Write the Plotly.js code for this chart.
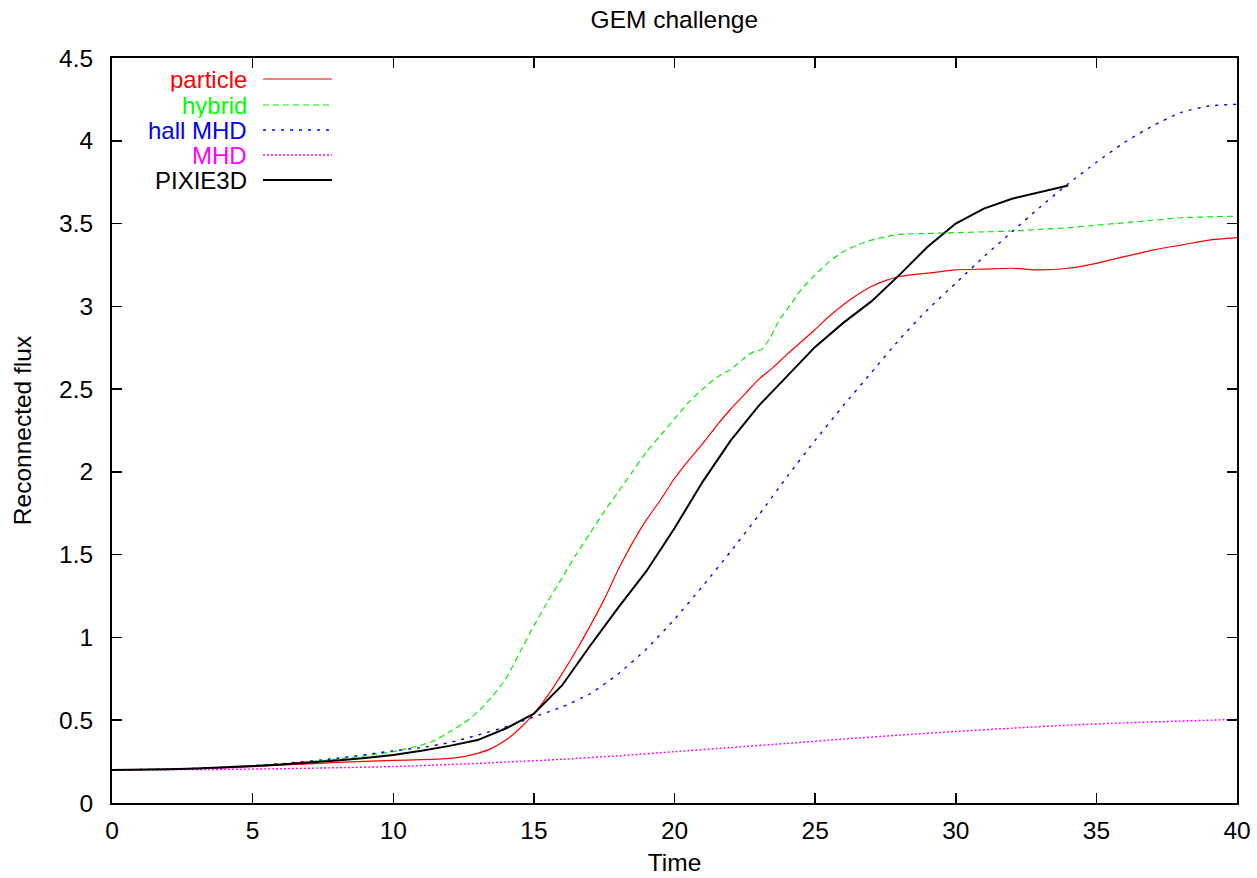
<!DOCTYPE html>
<html>
<head>
<meta charset="utf-8">
<script src="https://cdn.plot.ly/plotly-3.0.1.min.js"></script>
<style>html,body{margin:0;padding:0;background:#fff;}#chart{width:1257px;height:878px;}</style>
</head>
<body>
<div id="chart"></div>
<script>
// ---- data ----
var seriesNames = ["particle", "hybrid", "hall MHD", "MHD", "PIXIE3D"];

var particleTime = [0, 2, 4, 6, 8, 10, 11, 12, 12.5, 13, 13.5, 14, 14.5, 15, 15.5, 16, 16.5, 17, 17.5, 18, 18.5, 19, 19.5, 20, 20.5, 21, 21.5, 22, 22.5, 23, 23.5, 24, 24.5, 25, 25.5, 26, 26.5, 27, 27.5, 28, 29, 30, 31, 32, 33, 34, 35, 36, 37, 38, 39, 40];
var particleFlux = [0.2, 0.203, 0.212, 0.228, 0.245, 0.257, 0.262, 0.27, 0.28, 0.30, 0.33, 0.38, 0.45, 0.54, 0.65, 0.78, 0.92, 1.07, 1.23, 1.41, 1.57, 1.71, 1.83, 1.96, 2.07, 2.17, 2.28, 2.38, 2.47, 2.56, 2.63, 2.71, 2.785, 2.86, 2.94, 3.01, 3.07, 3.12, 3.155, 3.18, 3.20, 3.22, 3.225, 3.23, 3.22, 3.23, 3.26, 3.30, 3.34, 3.37, 3.40, 3.415];

var hybridTime = [0, 2, 4, 6, 8, 9, 10, 11, 11.5, 12, 12.5, 13, 13.5, 14, 14.5, 15, 15.5, 16, 16.5, 17, 17.5, 18, 18.5, 19, 19.5, 20, 20.5, 21, 21.5, 22, 22.5, 22.8, 23.1, 23.4, 23.7, 24, 24.5, 25, 25.5, 26, 26.5, 27, 27.5, 28, 29, 30, 31, 32, 33, 34, 35, 36, 37, 38, 39, 40];
var hybridFlux = [0.2, 0.205, 0.215, 0.235, 0.265, 0.285, 0.31, 0.35, 0.38, 0.43, 0.48, 0.55, 0.64, 0.75, 0.91, 1.07, 1.22, 1.36, 1.50, 1.63, 1.76, 1.88, 2.00, 2.12, 2.22, 2.32, 2.42, 2.50, 2.57, 2.62, 2.69, 2.725, 2.74, 2.81, 2.91, 2.98, 3.10, 3.19, 3.27, 3.33, 3.37, 3.40, 3.42, 3.435, 3.44, 3.445, 3.45, 3.455, 3.465, 3.475, 3.49, 3.505, 3.52, 3.535, 3.54, 3.545];

var hallTime = [0, 2, 4, 6, 8, 10, 11, 12, 13, 14, 15, 16, 17, 18, 19, 20, 21, 22, 23, 24, 25, 26, 27, 28, 29, 30, 31, 32, 33, 34, 35, 36, 37, 38, 39, 40];
var hallFlux = [0.2, 0.205, 0.215, 0.237, 0.27, 0.315, 0.335, 0.365, 0.41, 0.46, 0.52, 0.58, 0.66, 0.78, 0.93, 1.11, 1.31, 1.52, 1.74, 1.97, 2.19, 2.40, 2.60, 2.80, 2.98, 3.14, 3.30, 3.45, 3.60, 3.74, 3.87, 3.99, 4.09, 4.17, 4.21, 4.22];

var mhdTime = [0, 2, 4, 6, 8, 10, 12, 14, 16, 18, 20, 22, 24, 26, 28, 30, 32, 34, 36, 38, 40];
var mhdFlux = [0.2, 0.201, 0.203, 0.207, 0.213, 0.22, 0.232, 0.247, 0.264, 0.285, 0.31, 0.335, 0.36, 0.386, 0.41, 0.432, 0.452, 0.47, 0.484, 0.495, 0.505];

var pixieTime = [0, 1, 2, 3, 4, 5, 6, 7, 8, 9, 10, 11, 12, 13, 14, 15, 16, 17, 18, 19, 20, 21, 22, 23, 24, 25, 26, 27, 28, 29, 30, 31, 32, 33, 34];
var pixieFlux = [0.2, 0.2, 0.204, 0.209, 0.215, 0.223, 0.233, 0.244, 0.257, 0.272, 0.29, 0.315, 0.345, 0.38, 0.45, 0.54, 0.71, 0.95, 1.18, 1.40, 1.66, 1.94, 2.19, 2.40, 2.58, 2.755, 2.90, 3.03, 3.19, 3.36, 3.50, 3.59, 3.65, 3.69, 3.73];

var xTicks = [0, 5, 10, 15, 20, 25, 30, 35, 40];
var yTicks = [0, 0.5, 1, 1.5, 2, 2.5, 3, 3.5, 4, 4.5];

// ---- styles ----
var colors = ["#ff0000", "#00ee00", "#0000ff", "#ff00ff", "#000000"];
var textColors = ["#ff0000", "#00ff00", "#0000ff", "#ff00ff", "#000000"];
var dashes = ["solid", "6px,4px", "3px,6px", "2px,2px", "solid"];
var widths = [1.2, 1.2, 1.4, 1.4, 2];
var shapes = ["spline", "spline", "spline", "spline", "linear"];

var xs = [particleTime, hybridTime, hallTime, mhdTime, pixieTime];
var ys = [particleFlux, hybridFlux, hallFlux, mhdFlux, pixieFlux];

var FONT = "Liberation Sans, Arial, Helvetica, sans-serif";
var FS = 24.5;
var LFS = 24;
var W = 1257, H = 878;
var mL = 112, mR = 20, mT = 58, mB = 75;
var plotW = W - mL - mR, plotH = H - mT - mB;
function pxX(px) { return (px - mL) / plotW; }
function pxY(py) { return (H - mB - py) / plotH; }

var traces = [];
for (var i = 0; i < seriesNames.length; i++) {
  traces.push({
    type: "scatter", mode: "lines", name: seriesNames[i],
    x: xs[i], y: ys[i],
    line: {color: colors[i], width: widths[i], dash: dashes[i], shape: shapes[i], smoothing: 0.6},
    showlegend: false, hoverinfo: "skip"
  });
}

// custom legend (text left of sample line, as in the reference)
var annotations = [], legendShapes = [];
var rowY = [79, 105, 130, 155, 180];
for (var j = 0; j < seriesNames.length; j++) {
  annotations.push({
    xref: "paper", yref: "paper", x: pxX(247), y: pxY(rowY[j]),
    xanchor: "right", yanchor: "middle", showarrow: false,
    height: 24.4, borderpad: 0, borderwidth: 0, valign: "middle",
    text: seriesNames[j], font: {family: FONT, size: LFS, color: textColors[j]}
  });
  legendShapes.push({
    type: "line", xref: "paper", yref: "paper",
    x0: pxX(263), x1: pxX(332), y0: pxY(rowY[j]), y1: pxY(rowY[j]),
    line: {color: colors[j], width: widths[j], dash: dashes[j]}
  });
}

var axisCommon = {
  showline: true, linecolor: "#000", linewidth: 2, mirror: "ticks",
  ticks: "inside", ticklen: 10, tickwidth: 1.5, tickcolor: "#000",
  showgrid: false, zeroline: false, automargin: false,
  tickfont: {family: FONT, size: FS, color: "#000"}
};

var layout = {
  width: W, height: H,
  margin: {l: mL, r: mR, t: mT, b: mB, pad: 0},
  paper_bgcolor: "#fff", plot_bgcolor: "#fff",
  font: {family: FONT, size: FS, color: "#000"},
  title: {text: "GEM challenge", x: 0.5365, xanchor: "center", y: 1 - 19 / H, yanchor: "middle",
          font: {family: FONT, size: FS, color: "#000"}},
  xaxis: Object.assign({}, axisCommon, {
    range: [0, 40], tickmode: "array", tickvals: xTicks, ticktext: xTicks.map(String),
    ticklabelstandoff: 5,
    title: {text: "Time", font: {family: FONT, size: FS, color: "#000"}, standoff: 10}
  }),
  yaxis: Object.assign({}, axisCommon, {
    range: [0, 4.5], tickmode: "array", tickvals: yTicks, ticktext: yTicks.map(String),
    ticklabelstandoff: 12,
    title: {text: "Reconnected flux", font: {family: FONT, size: FS, color: "#000"}, standoff: 20}
  }),
  annotations: annotations,
  shapes: legendShapes
};

Plotly.newPlot("chart", traces, layout, {staticPlot: true, displayModeBar: false});
</script>
</body>
</html>
